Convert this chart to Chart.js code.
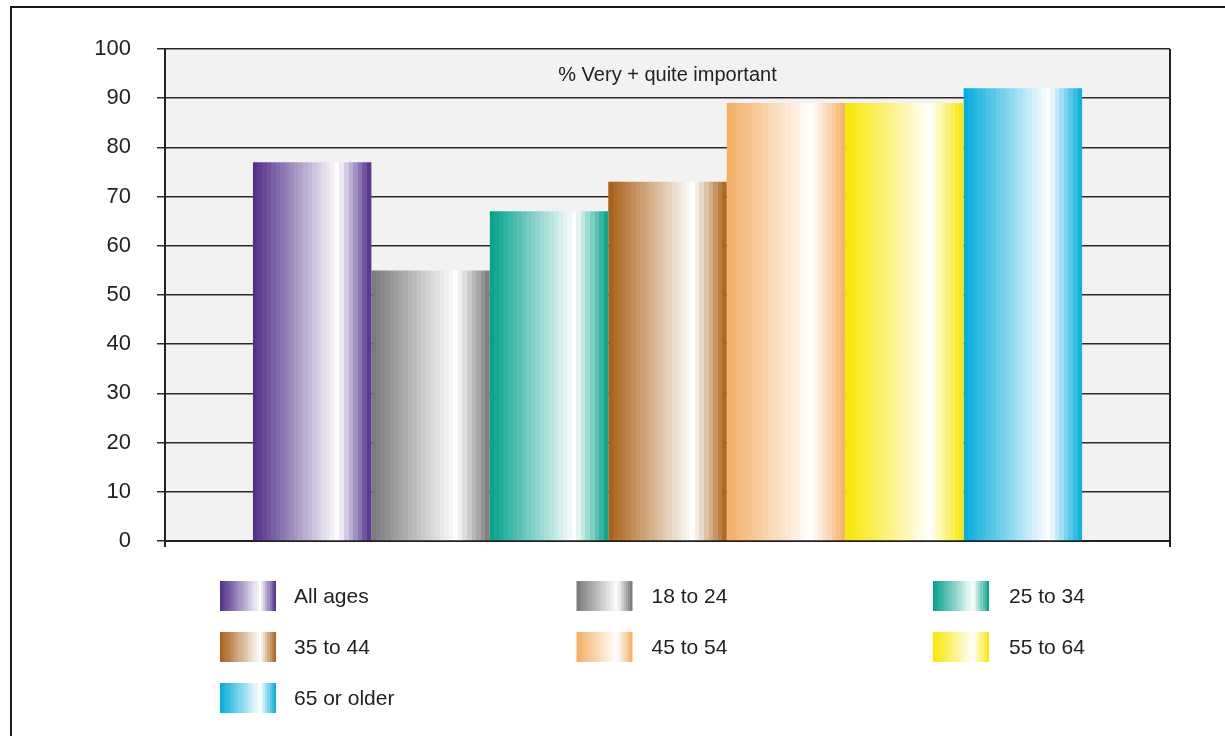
<!DOCTYPE html>
<html>
<head>
<meta charset="utf-8">
<script src="https://cdn.jsdelivr.net/npm/chart.js@4"></script>
<style>
  html, body { margin: 0; padding: 0; background: #fff; overflow: hidden; }
  #frame { position: absolute; left: 10px; top: 6px; width: 1300px; height: 800px; border: 2px solid #1a1a1a; }
  #wrap { position: absolute; left: 0; top: 0; width: 1225px; height: 736px; }
</style>
</head>
<body>
<div id="frame"></div>
<div id="wrap"><canvas id="grafico" width="1225" height="736"></canvas></div>
<script>
// dados do gráfico
const grupos = ['All ages', '18 to 24', '25 to 34', '35 to 44', '45 to 54', '55 to 64', '65 or older'];
const valores = [77, 55, 67, 73, 89, 89, 92];
const cores = ['#4e2c87', '#777777', '#00a08a', '#a85e14', '#f3ae62', '#f7e600', '#00abdc'];
const yTicks = [0, 10, 20, 30, 40, 50, 60, 70, 80, 90, 100];
const titulo = '% Very + quite important';

const fonte = '"Liberation Sans", Arial, sans-serif';
const catPct = 0.825;

function hexRgb(h) {
  return [parseInt(h.slice(1, 3), 16), parseInt(h.slice(3, 5), 16), parseInt(h.slice(5, 7), 16)];
}

// gradiente em faixas: escuro -> branco (~72%) -> escuro
function gradiente(ctx, x0, w, hex) {
  const g = ctx.createLinearGradient(x0, 0, x0 + w, 0);
  const [r, gr, b] = hexRgb(hex);
  const pico = 0.72, n = 26;
  for (let k = 0; k < n; k++) {
    const t0 = k / n, t1 = (k + 1) / n, tm = (t0 + t1) / 2;
    const f = tm < pico ? tm / pico : 1 - (tm - pico) / (1 - pico);
    const c = `rgb(${Math.round(r + (255 - r) * f)},${Math.round(gr + (255 - gr) * f)},${Math.round(b + (255 - b) * f)})`;
    g.addColorStop(t0, c);
    g.addColorStop(t1, c);
  }
  return g;
}

const fundo = {
  id: 'fundo',
  beforeDraw(chart) {
    const { ctx, chartArea: a } = chart;
    ctx.save();
    ctx.fillStyle = '#f2f2f2';
    ctx.fillRect(a.left, a.top, a.right - a.left, a.bottom - a.top);
    ctx.restore();
  },
  afterDraw(chart) {
    const { ctx, chartArea: a } = chart;
    ctx.save();
    // borda direita
    ctx.strokeStyle = '#222';
    ctx.lineWidth = 2;
    ctx.beginPath();
    ctx.moveTo(a.right, a.top);
    ctx.lineTo(a.right, a.bottom + 6);
    ctx.stroke();
    // titulo dentro da area
    ctx.fillStyle = '#222';
    ctx.font = '20px ' + fonte;
    ctx.textAlign = 'center';
    ctx.textBaseline = 'middle';
    ctx.fillText(titulo, (a.left + a.right) / 2, a.top + 26);
    // legenda em 3 colunas
    ctx.font = '21px ' + fonte;
    ctx.textAlign = 'left';
    grupos.forEach((nome, i) => {
      const x = 220 + (i % 3) * 356.5;
      const y = 581 + Math.floor(i / 3) * 51;
      ctx.fillStyle = gradiente(ctx, x, 56, cores[i]);
      ctx.fillRect(x, y, 56, 30);
      ctx.fillStyle = '#222';
      ctx.fillText(nome, x + 74 + (i % 3), y + 16);
    });
    ctx.restore();
  }
};

const datasets = grupos.map((nome, i) => ({
  label: nome,
  data: [valores[i]],
  borderWidth: 0,
  backgroundColor: (c) => {
    const chart = c.chart;
    const xs = chart.scales.x;
    if (!xs || !chart.chartArea) return cores[i];
    const catW = xs.width / 1;
    const barW = catW * catPct / grupos.length;
    const left = xs.getPixelForValue(0) - catW * catPct / 2 + i * barW;
    return gradiente(chart.ctx, left, barW, cores[i]);
  }
}));

new Chart(document.getElementById('grafico').getContext('2d'), {
  type: 'bar',
  data: { labels: [''], datasets: datasets },
  options: {
    responsive: false,
    animation: false,
    layout: { padding: { top: 49, right: 55, left: 0, bottom: 0 } },
    plugins: { legend: { display: false }, tooltip: { enabled: false } },
    datasets: { bar: { categoryPercentage: catPct, barPercentage: 1 } },
    scales: {
      x: {
        offset: true,
        ticks: { display: false },
        grid: { drawOnChartArea: false, color: '#222', lineWidth: 2, tickLength: 6 },
        border: { display: true, color: '#222', width: 2 },
        afterFit(s) { s.height = 195; }
      },
      y: {
        min: 0,
        max: 100,
        afterBuildTicks(s) { s.ticks = yTicks.map(v => ({ value: v })); },
        ticks: { color: '#222', font: { family: fonte, size: 22 }, padding: 26 },
        grid: { color: '#2a2a2a', lineWidth: 1.5, tickLength: 8 },
        border: { display: true, color: '#222', width: 2 },
        afterFit(s) { s.width = 165; }
      }
    }
  },
  plugins: [fundo]
});
</script>
</body>
</html>
